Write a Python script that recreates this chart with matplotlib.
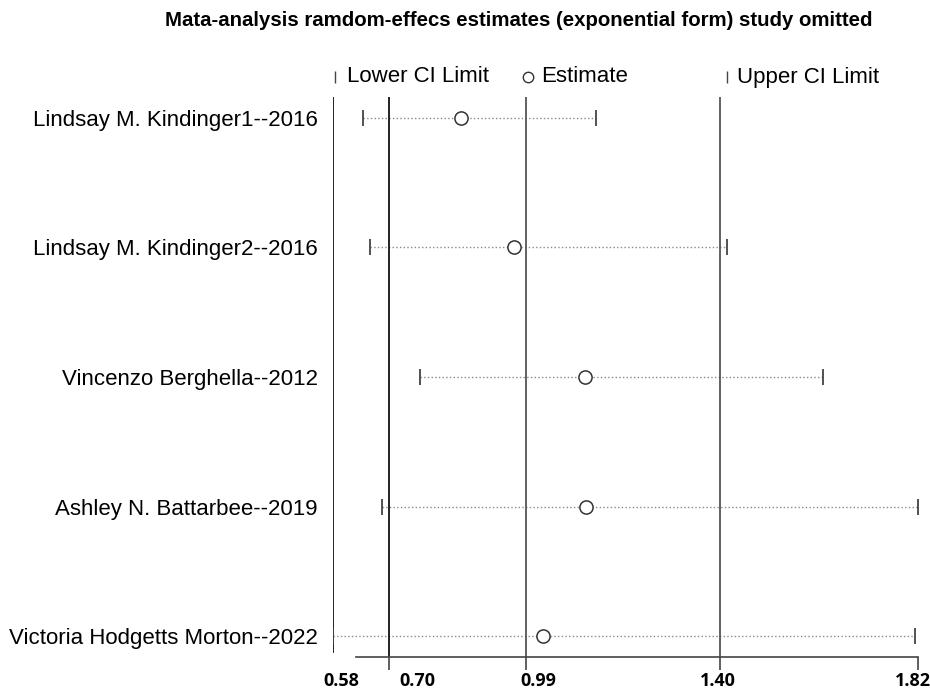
import numpy as np
import matplotlib.pyplot as plt
from matplotlib.transforms import ScaledTranslation

# studies omitted one at a time, exp scale
studies = ['Lindsay M. Kindinger1--2016',
           'Lindsay M. Kindinger2--2016',
           'Vincenzo Berghella--2012',
           'Ashley N. Battarbee--2019',
           'Victoria Hodgetts Morton--2022']
estimate = [0.852, 0.964, 1.114, 1.116, 1.025]
lower_ci = [0.645, 0.659, 0.766, 0.685, 0.580]
upper_ci = [1.137, 1.416, 1.618, 1.820, 1.813]

# overall pooled values shown as reference lines
overall_lower = 0.70
overall_est = 0.99
overall_upper = 1.40
axis_ticks = [0.58, 0.70, 0.99, 1.40, 1.82]
tick_labels = ['0.58', '0.70', '0.99', '1.40', '1.82']

W, H = 930, 692
fig = plt.figure(figsize=(W / 100, H / 100), dpi=100)

left_px, right_px = 332.5, 918.3
top_px, bot_px = 97, 657
ax = fig.add_axes([left_px / W, 1 - bot_px / H,
                   (right_px - left_px) / W, (bot_px - top_px) / H])

y = np.arange(len(studies))

# dotted CI lines with caps and circle estimate
for i in range(len(studies)):
    ax.plot([lower_ci[i], upper_ci[i]], [y[i], y[i]], linestyle=':',
            color='#8a8a8a', lw=1.0, zorder=2)
ax.plot(lower_ci, y, linestyle='none', marker='|', ms=11, mew=1.3,
        color='#444444', zorder=3)
ax.plot(upper_ci, y, linestyle='none', marker='|', ms=11, mew=1.3,
        color='#444444', zorder=3)
ax.plot(estimate, y, linestyle='none', marker='o', ms=9.5, mfc='white',
        mec='#333333', mew=1.1, zorder=4)

# vertical reference lines
ax.axvline(axis_ticks[0], ymin=0.009, ymax=1, color='#111111', lw=1.3)
ax.axvline(overall_lower, color='#111111', lw=1.3)
ax.axvline(overall_est, color='#555555', lw=1.3)
ax.axvline(overall_upper, color='#555555', lw=1.3)

ax.set_xlim(0.58, 1.82)
ax.set_ylim(4.162, -0.162)

for s in ['top', 'right', 'left']:
    ax.spines[s].set_visible(False)
ax.spines['bottom'].set_bounds(0.63, 1.82)
ax.spines['bottom'].set_color('#444444')
ax.spines['bottom'].set_linewidth(1.2)

ax.set_xticks(axis_ticks)
ax.set_xticklabels(tick_labels, fontsize=13, fontweight='bold',
                   family='Open Sans')
ax.tick_params(axis='x', length=9, width=1.2, color='#444444', pad=2)
ax.xaxis.get_major_ticks()[0].tick1line.set_visible(False)
# labels sit a little off their ticks in the original
shifts = [9, 28, 12, -2, -5]
for lab, dx in zip(ax.get_xticklabels(), shifts):
    lab.set_transform(lab.get_transform() +
                      ScaledTranslation(dx / 100, 0, fig.dpi_scale_trans))

ax.set_yticks(y)
ax.set_yticklabels(studies, fontsize=16, family='Liberation Sans')
ax.tick_params(axis='y', length=0, pad=10.5)

# title
fig.text(518.5 / W, 1 - 21 / H,
         'Mata-analysis ramdom-effecs estimates (exponential form) study omitted',
         ha='center', va='center', fontsize=14.7, fontweight='bold',
         family='Liberation Sans')

# legend row
ly = 1 - 77 / H
fig.add_artist(plt.Line2D([335 / W], [ly], marker='|', ms=9, mew=1,
                          color='#444444', linestyle='none'))
fig.text(347 / W, ly, 'Lower CI Limit', ha='left', va='center',
         fontsize=16, family='Liberation Sans')
fig.add_artist(plt.Line2D([528 / W], [ly], marker='o', ms=7.5, mfc='white',
                          mec='#333333', mew=1, linestyle='none'))
fig.text(541 / W, ly, 'Estimate', ha='left', va='center',
         fontsize=16, family='Liberation Sans')
fig.add_artist(plt.Line2D([727 / W], [ly], marker='|', ms=9, mew=1,
                          color='#444444', linestyle='none'))
fig.text(737 / W, ly, 'Upper CI Limit', ha='left', va='center',
         fontsize=16, family='Liberation Sans')

fig.savefig('out.png', dpi=100, facecolor='white')
